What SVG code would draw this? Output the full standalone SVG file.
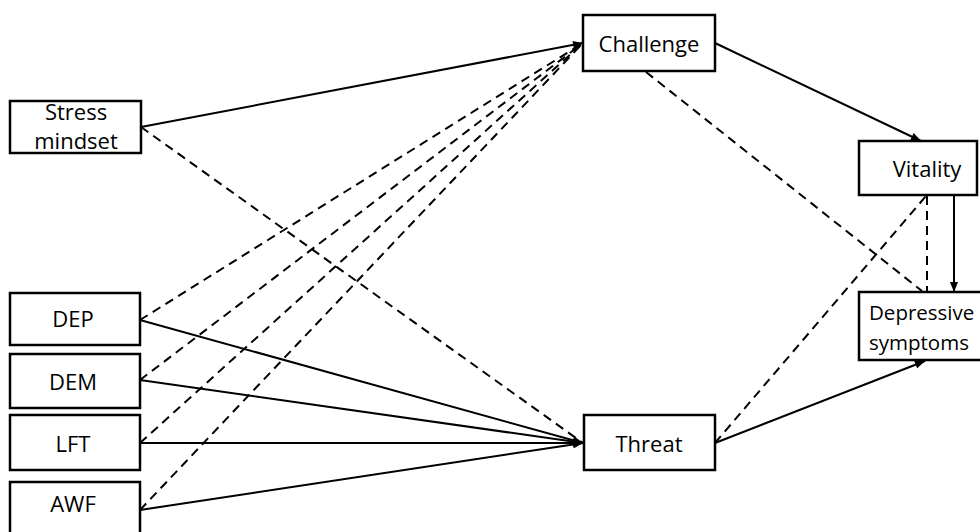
<svg xmlns="http://www.w3.org/2000/svg" width="980" height="532" viewBox="0 0 980 532">
<defs>
<marker id="arr" viewBox="0 0 10 8" refX="10" refY="4" markerWidth="11" markerHeight="8" markerUnits="userSpaceOnUse" orient="auto">
<path d="M0,0 L10,4 L0,8 Z" fill="#000"/>
</marker>
</defs>
<style>
.box{fill:#fff;stroke:#000;stroke-width:2.5}
.t{font-family:"Open Sans","Liberation Sans",sans-serif;font-size:22px;fill:#000;text-anchor:middle}
.s{fill:none;stroke:#000;stroke-width:2}
.d{fill:none;stroke:#000;stroke-width:2;stroke-dasharray:9,6}
</style>
<rect width="980" height="532" fill="#fff"/>
<g id="connectors">
<line class="s" x1="141" y1="127" x2="583" y2="43" marker-end="url(#arr)"/>
<line class="d" x1="141" y1="127" x2="583" y2="443"/>
<line class="d" x1="140" y1="320" x2="583" y2="43"/>
<line class="d" x1="140" y1="380" x2="583" y2="43"/>
<line class="d" x1="140" y1="443" x2="583" y2="43"/>
<line class="d" x1="140" y1="510" x2="583" y2="43"/>
<line class="s" x1="140" y1="320" x2="583" y2="443" marker-end="url(#arr)"/>
<line class="s" x1="140" y1="380" x2="583" y2="443" marker-end="url(#arr)"/>
<line class="s" x1="140" y1="443" x2="583" y2="443" marker-end="url(#arr)"/>
<line class="s" x1="140" y1="510" x2="583" y2="443" marker-end="url(#arr)"/>
<line class="s" x1="715" y1="43" x2="921" y2="141" marker-end="url(#arr)"/>
<line class="d" x1="646" y1="72" x2="922" y2="291"/>
<line class="d" x1="715" y1="443" x2="926" y2="196"/>
<line class="s" x1="715" y1="443" x2="925" y2="361" marker-end="url(#arr)"/>
<line class="d" x1="927" y1="196" x2="927" y2="292"/>
<line class="s" x1="954" y1="196" x2="954" y2="292" marker-end="url(#arr)"/>
</g>
<g id="stress">
<rect class="box" x="10" y="101" width="131" height="52"/>
<text class="t" x="76" y="120">Stress</text>
<text class="t" x="76" y="149">mindset</text>
</g>
<g id="dep">
<rect class="box" x="10" y="293" width="130" height="52"/>
<text class="t" x="73" y="327">DEP</text>
</g>
<g id="dem">
<rect class="box" x="10" y="354" width="130" height="54"/>
<text class="t" x="73" y="390">DEM</text>
</g>
<g id="lft">
<rect class="box" x="10" y="415" width="130" height="55"/>
<text class="t" x="73" y="452">LFT</text>
</g>
<g id="awf">
<rect class="box" x="10" y="482" width="130" height="56"/>
<text class="t" x="73" y="512">AWF</text>
</g>
<g id="challenge">
<rect class="box" x="583" y="15" width="132" height="56"/>
<text class="t" x="649" y="52">Challenge</text>
</g>
<g id="threat">
<rect class="box" x="584" y="415" width="131" height="55"/>
<text class="t" x="649" y="452">Threat</text>
</g>
<g id="vitality">
<rect class="box" x="859" y="141" width="118" height="54"/>
<text class="t" x="927" y="177">Vitality</text>
</g>
<g id="depressive">
<rect class="box" x="859" y="292" width="130" height="68"/>
<text class="t" x="869" y="320" style="text-anchor:start;font-size:20.5px">Depressive</text>
<text class="t" x="869" y="350" style="text-anchor:start;font-size:20.5px">symptoms</text>
</g>
</svg>
